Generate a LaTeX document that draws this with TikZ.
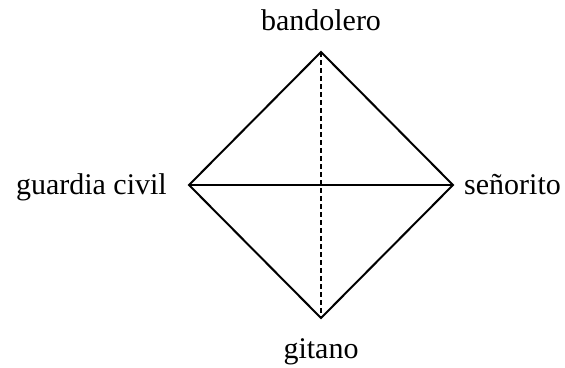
\documentclass[tikz,border=0pt]{standalone}
\usepackage{fontspec}
\setmainfont{Liberation Serif}
\usetikzlibrary{calc}
\tikzstyle{edge}=[draw,line width=2pt,line join=miter]
\tikzstyle{axis}=[draw,line width=1.8pt,dash pattern=on 5pt off 3pt]
\tikzstyle{role}=[font=\fontsize{30}{34}\selectfont,inner sep=0pt]
\begin{document}
\begin{tikzpicture}[x=1pt,y=-1pt]
\useasboundingbox (0,0) rectangle (565,367);
%corners
\coordinate (top) at (321,52);
\coordinate (left) at (189,185);
\coordinate (right) at (453,185);
\coordinate (bottom) at (321,318);
%diamond and axes
\path[edge] (top) -- (right) -- (bottom) -- (left) -- cycle;
\path[edge] (left) -- (right);
\path[axis] (top) -- (bottom);
%labels
\node[role,anchor=base] (bandolero) at (321,30) {bandolero};
\node[role,anchor=base east] (guardia) at (167,194) {guardia civil};
\node[role,anchor=base west] (senorito) at (464,194) {señorito};
\node[role,anchor=base] (gitano) at (321,358) {gitano};
\end{tikzpicture}
\end{document}
